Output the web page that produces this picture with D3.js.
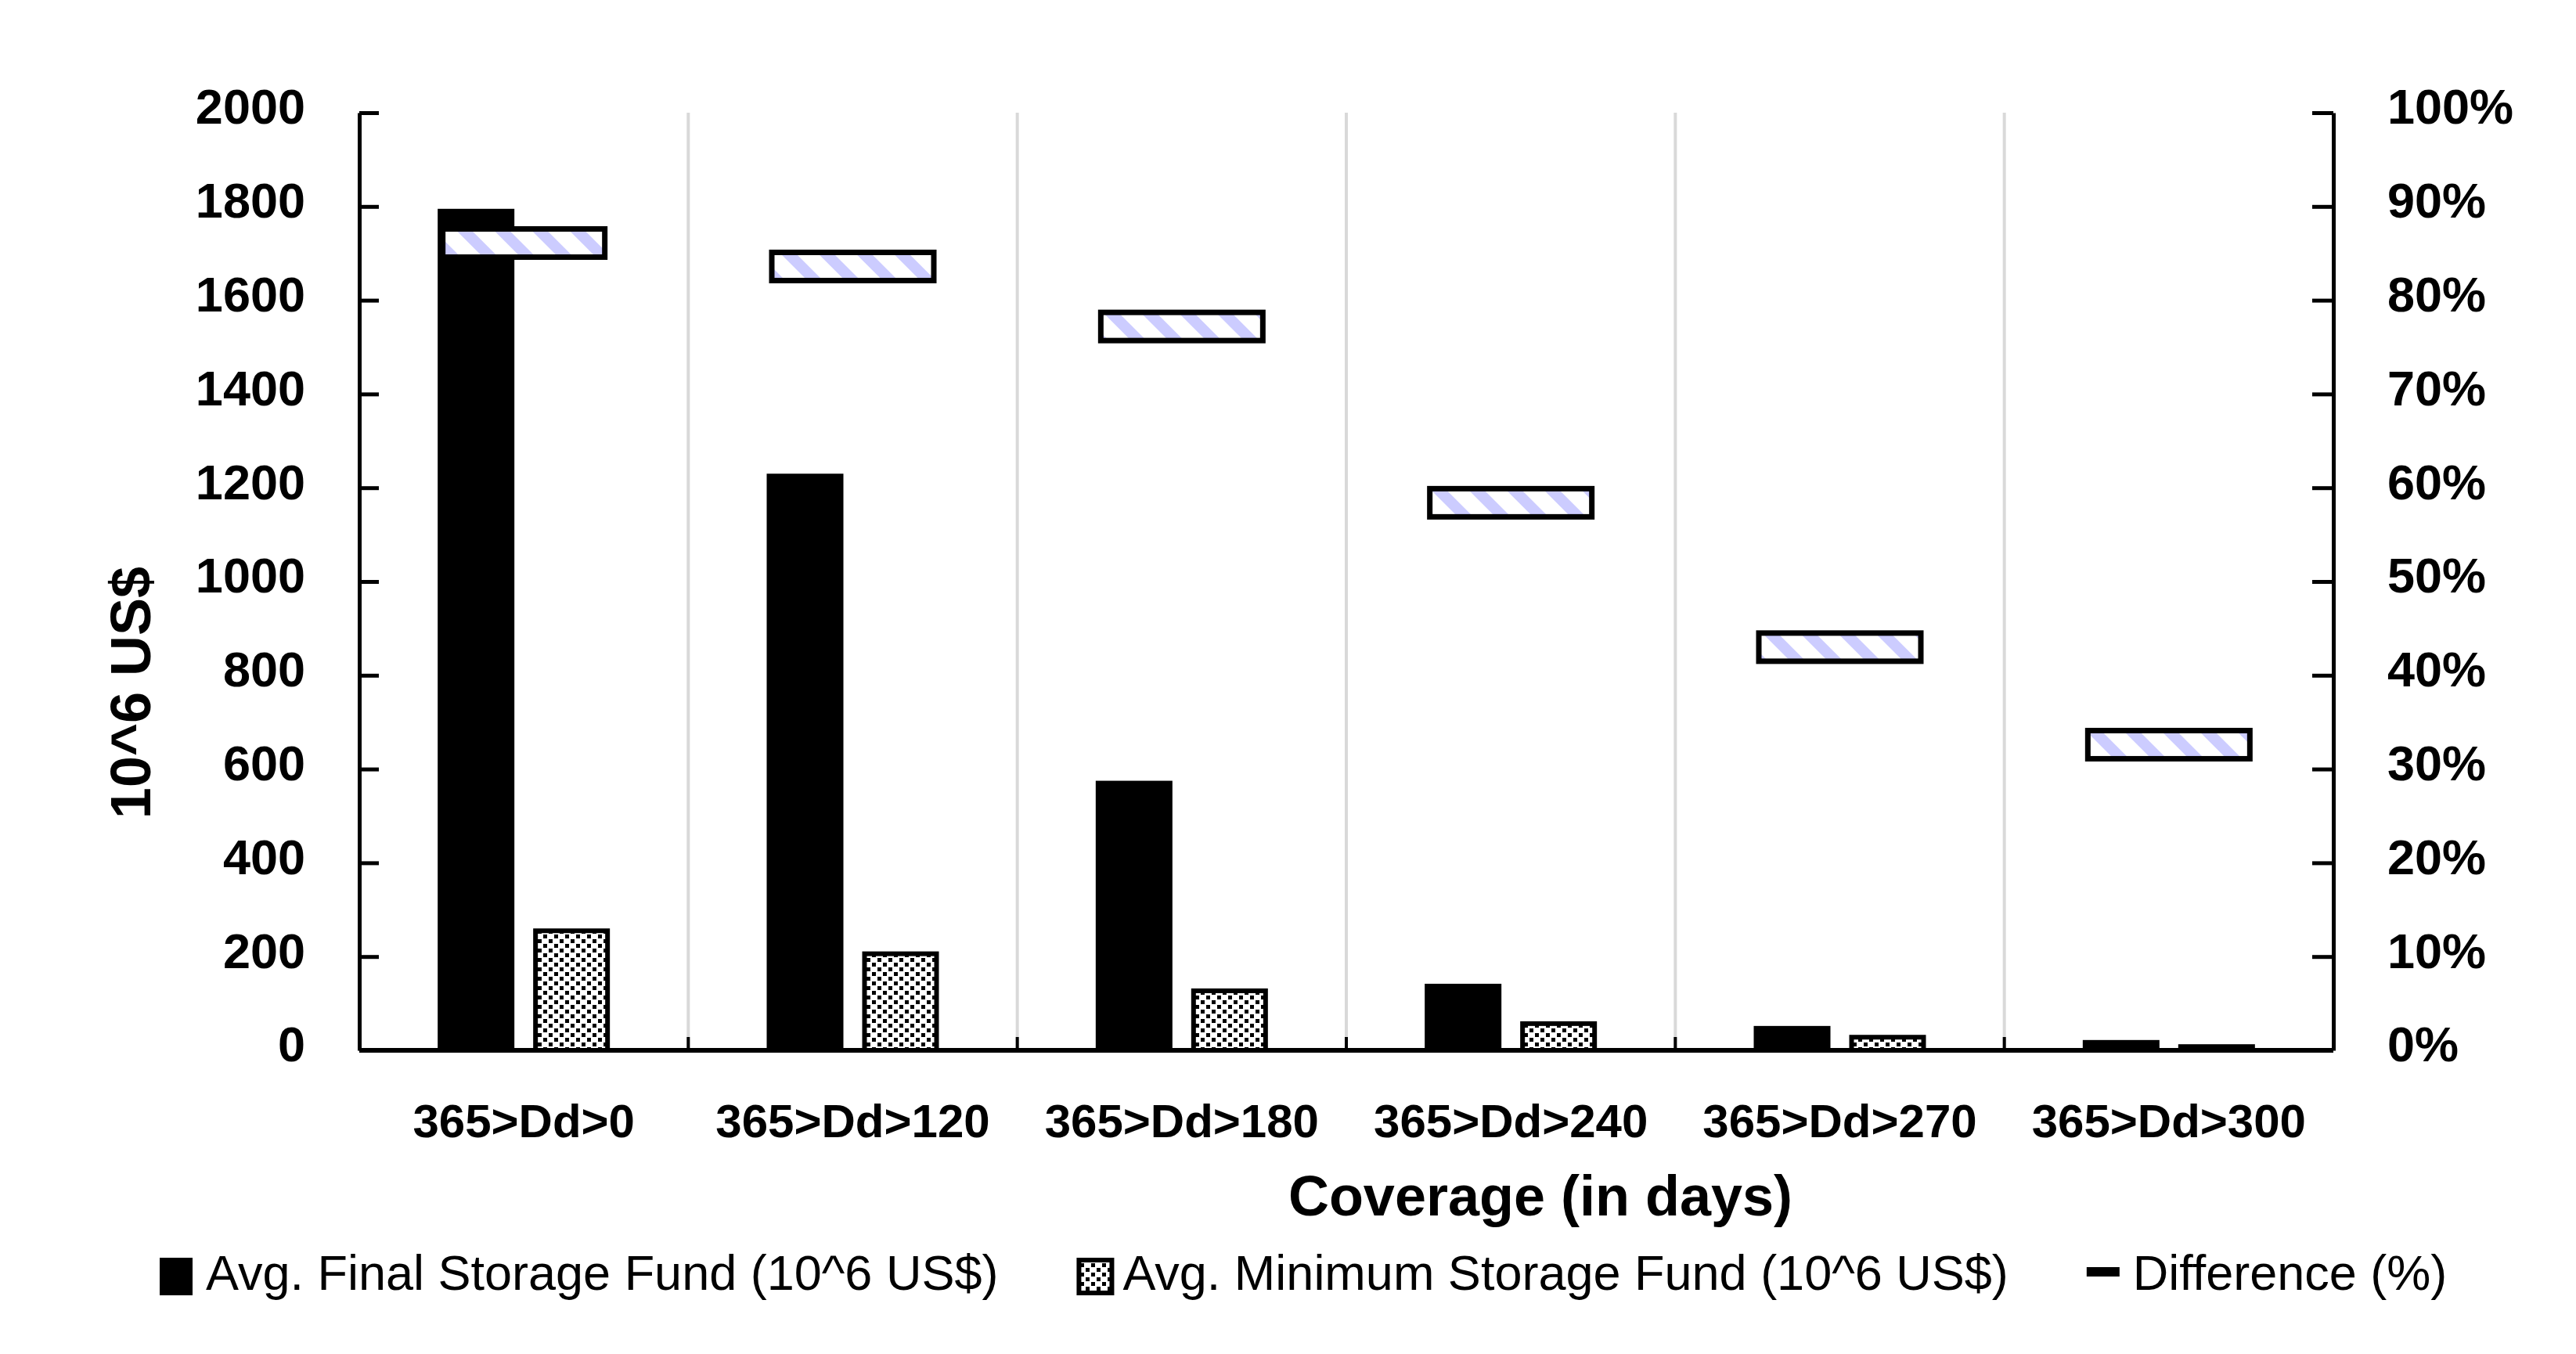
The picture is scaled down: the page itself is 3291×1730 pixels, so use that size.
<!DOCTYPE html>
<html>
<head>
<meta charset="utf-8">
<script src="https://cdn.jsdelivr.net/npm/d3@7"></script>
<style>
  body { margin: 0; background: #fff; }
  svg { display: block; font-family: "Liberation Sans", Arial, sans-serif; }
  .axis path, .axis line { stroke: #000; }
  .axis text { fill: #000; font-weight: bold; font-size: 63px; }
  .cat text { font-size: 60px; }
</style>
</head>
<body>
<svg id="chart" width="3291" height="1730"></svg>
<script>
// values
const categories = ['365>Dd>0', '365>Dd>120', '365>Dd>180', '365>Dd>240', '365>Dd>270', '365>Dd>300'];
const finalFund = [1795, 1230, 575, 142, 52, 22];
const minFund = [260, 211, 132, 62, 33, 13];
const diffPct = [86.1, 83.6, 77.2, 58.4, 43.0, 32.6];
const leftTicks = d3.range(0, 2001, 200);
const rightTicks = d3.range(0, 101, 10);
const legendLabels = ['Avg. Final Storage Fund (10^6 US$)', 'Avg. Minimum Storage Fund (10^6 US$)', 'Difference (%)'];

const W = 3291, H = 1730;
const plot = {left: 459, right: 2981, top: 144, bottom: 1342};

const svg = d3.select('#chart');
svg.append('rect').attr('width', W).attr('height', H).attr('fill', '#fff');

// patterns
const defs = svg.append('defs');
const dots = defs.append('pattern')
  .attr('id', 'dots')
  .attr('patternUnits', 'userSpaceOnUse')
  .attr('width', 14).attr('height', 12);
dots.append('rect').attr('width', 14).attr('height', 12).attr('fill', '#fff');
dots.append('rect').attr('x', 1).attr('y', 0).attr('width', 5).attr('height', 5).attr('fill', '#000');
dots.append('rect').attr('x', 8).attr('y', 6).attr('width', 5).attr('height', 5).attr('fill', '#000');

const stripes = defs.append('pattern')
  .attr('id', 'stripes')
  .attr('patternUnits', 'userSpaceOnUse')
  .attr('width', 34).attr('height', 34)
  .attr('patternTransform', 'rotate(-45)');
stripes.append('rect').attr('width', 34).attr('height', 34).attr('fill', '#fff');
stripes.append('rect').attr('width', 14).attr('height', 34).attr('fill', '#ccccff');

const x = d3.scaleBand().domain(categories).range([plot.left, plot.right]);
const y = d3.scaleLinear().domain([0, 2000]).range([plot.bottom, plot.top]);
const yR = d3.scaleLinear().domain([0, 100]).range([plot.bottom, plot.top]);
const bw = x.bandwidth();
const barW = 98, gap = 24;

// vertical gridlines between categories
svg.append('g')
  .selectAll('line')
  .data(categories.slice(1))
  .join('line')
  .attr('x1', d => x(d)).attr('x2', d => x(d))
  .attr('y1', plot.top).attr('y2', plot.bottom)
  .attr('stroke', '#d9d9d9')
  .attr('stroke-width', 4);

// final fund bars
svg.append('g')
  .selectAll('rect')
  .data(categories)
  .join('rect')
  .attr('x', d => x(d) + bw / 2 - gap / 2 - barW)
  .attr('y', (d, i) => y(finalFund[i]))
  .attr('width', barW)
  .attr('height', (d, i) => y(0) - y(finalFund[i]))
  .attr('fill', '#000');

// minimum fund bars
svg.append('g')
  .selectAll('rect')
  .data(categories)
  .join('rect')
  .attr('x', d => x(d) + bw / 2 + gap / 2 + 3)
  .attr('y', (d, i) => y(minFund[i]) + 3)
  .attr('width', barW - 6)
  .attr('height', (d, i) => Math.max(y(0) - y(minFund[i]) - 3, 0))
  .attr('fill', 'url(#dots)')
  .attr('stroke', '#000')
  .attr('stroke-width', 6);

// x axis line + ticks at boundaries
svg.append('g')
  .selectAll('line')
  .data(categories.slice(1))
  .join('line')
  .attr('x1', d => x(d)).attr('x2', d => x(d))
  .attr('y1', plot.bottom - 17).attr('y2', plot.bottom)
  .attr('stroke', '#000')
  .attr('stroke-width', 4);

svg.append('line')
  .attr('x1', plot.left).attr('x2', plot.right)
  .attr('y1', plot.bottom).attr('y2', plot.bottom)
  .attr('stroke', '#000')
  .attr('stroke-width', 6);

svg.append('g')
  .attr('class', 'axis cat')
  .attr('transform', `translate(0,${plot.bottom})`)
  .call(d3.axisBottom(x).tickSize(0).tickPadding(68))
  .call(g => g.select('.domain').remove());

// y axes
svg.append('g')
  .attr('class', 'axis')
  .attr('transform', `translate(${plot.left},0)`)
  .call(d3.axisLeft(y).tickValues(leftTicks).tickSize(-25).tickSizeOuter(0).tickPadding(69)
    .tickFormat(d3.format('d')))
  .call(g => g.selectAll('path, line').attr('stroke-width', 5))
  .call(g => g.selectAll('text').attr('dy', '0.22em'));

svg.append('g')
  .attr('class', 'axis')
  .attr('transform', `translate(${plot.right},0)`)
  .call(d3.axisRight(yR).tickValues(rightTicks).tickSize(-27).tickSizeOuter(0).tickPadding(69)
    .tickFormat(d => d + '%'))
  .call(g => g.selectAll('path, line').attr('stroke-width', 5))
  .call(g => g.selectAll('text').attr('dy', '0.22em'));

// difference markers
const boxW = 207, boxH = 36;
svg.append('g')
  .selectAll('rect')
  .data(categories)
  .join('rect')
  .attr('x', d => x(d) + bw / 2 - boxW / 2)
  .attr('y', (d, i) => yR(diffPct[i]) - boxH / 2)
  .attr('width', boxW)
  .attr('height', boxH)
  .attr('fill', 'url(#stripes)')
  .attr('stroke', '#000')
  .attr('stroke-width', 7);

// axis titles
svg.append('text')
  .attr('transform', 'translate(192,885) rotate(-90)')
  .attr('text-anchor', 'middle')
  .attr('font-size', 72)
  .attr('font-weight', 'bold')
  .text('10^6 US$');

svg.append('text')
  .attr('x', 1968).attr('y', 1553)
  .attr('text-anchor', 'middle')
  .attr('font-size', 72)
  .attr('font-weight', 'bold')
  .text('Coverage (in days)');

// legend
const legend = svg.append('g').attr('font-size', 63);
let lx = 204;
legendLabels.forEach((label, i) => {
  if (i === 0) {
    legend.append('rect').attr('x', lx).attr('y', 1607).attr('width', 42).attr('height', 48).attr('fill', '#000');
  } else if (i === 1) {
    legend.append('rect').attr('x', lx + 3).attr('y', 1610).attr('width', 42).attr('height', 42)
      .attr('fill', 'url(#dots)').attr('stroke', '#000').attr('stroke-width', 6);
  } else {
    legend.append('rect').attr('x', lx).attr('y', 1619).attr('width', 42).attr('height', 12).attr('fill', '#000');
  }
  const t = legend.append('text').attr('x', lx + 59).attr('y', 1648).text(label);
  lx += 59 + t.node().getComputedTextLength() + 100;
});
</script>
</body>
</html>
